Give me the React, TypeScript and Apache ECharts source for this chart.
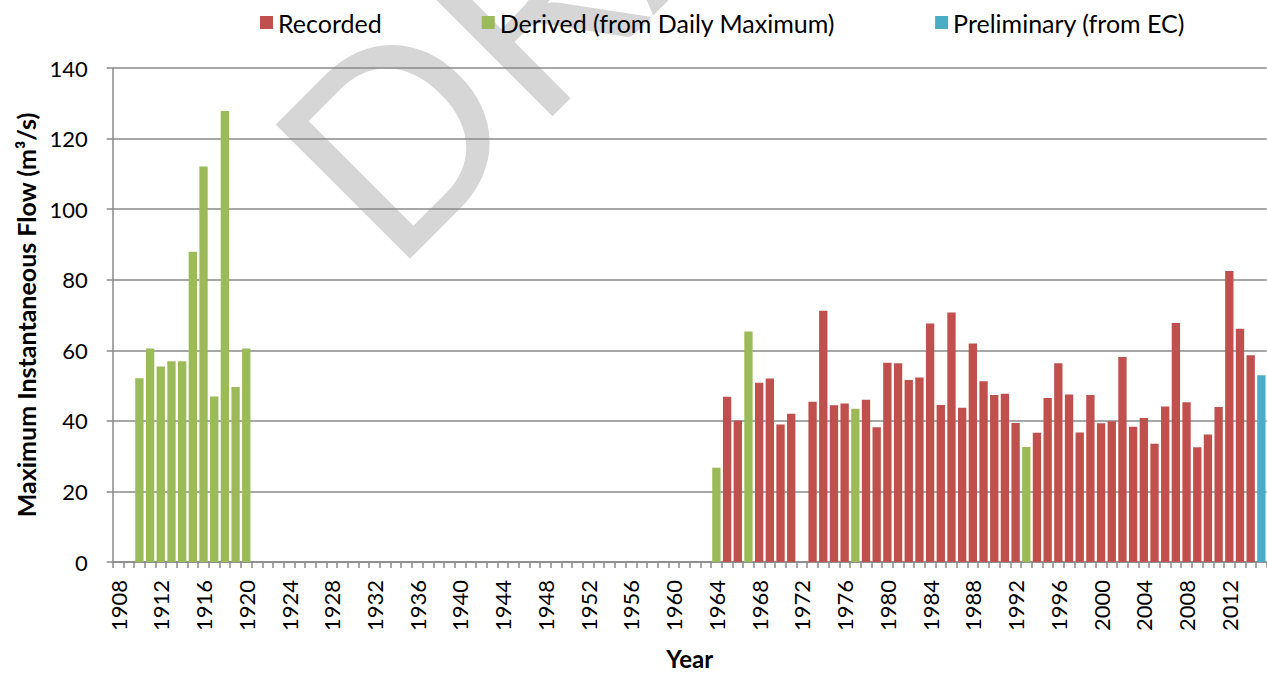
import React, { useEffect, useRef } from "react";
import * as echarts from "echarts";

const FIRST_YEAR = 1908;
const LAST_YEAR = 2015;
const years: string[] = [];
for (let y = FIRST_YEAR; y <= LAST_YEAR; y++) years.push(String(y));

const recorded: [number, number][] = [
  [1965, 46.8], [1966, 40.1], [1968, 50.8], [1969, 52.0], [1970, 39.0], [1971, 42.0],
  [1973, 45.4], [1974, 71.2], [1975, 44.4], [1976, 44.9], [1978, 46.0], [1979, 38.2],
  [1980, 56.5], [1981, 56.3], [1982, 51.6], [1983, 52.3], [1984, 67.6], [1985, 44.5],
  [1986, 70.7], [1987, 43.7], [1988, 61.9], [1989, 51.2], [1990, 47.3], [1991, 47.7],
  [1992, 39.4], [1994, 36.6], [1995, 46.5], [1996, 56.3], [1997, 47.5], [1998, 36.7],
  [1999, 47.3], [2000, 39.3], [2001, 39.9], [2002, 58.1], [2003, 38.3], [2004, 40.8],
  [2005, 33.5], [2006, 44.1], [2007, 67.7], [2008, 45.3], [2009, 32.5], [2010, 36.1],
  [2011, 43.9], [2012, 82.5], [2013, 66.1], [2014, 58.6],
];

const derived: [number, number][] = [
  [1910, 52.1], [1911, 60.5], [1912, 55.4], [1913, 56.9], [1914, 56.9], [1915, 87.9],
  [1916, 112.1], [1917, 46.9], [1918, 127.8], [1919, 49.6], [1920, 60.5],
  [1964, 26.7], [1967, 65.3], [1977, 43.4], [1993, 32.6],
];

const preliminary: [number, number][] = [[2015, 52.9]];

const yTicks = { min: 0, max: 140, interval: 20 };

function toSeriesData(pairs: [number, number][]) {
  const m = new Map<number, number>(pairs);
  return years.map((y) => (m.has(Number(y)) ? m.get(Number(y)) : null));
}

const FONT = "Lato, 'Open Sans', sans-serif";
const GRID_COLOR = "#8a8a8a";

export default function App() {
  const ref = useRef<HTMLDivElement>(null);
  useEffect(() => {
    document.body.style.margin = "0";
    const chart = echarts.init(ref.current!, undefined, { renderer: "svg" });
    const barCommon = {
      type: "bar" as const,
      barGap: "-100%",
      barCategoryGap: "22%",
    };
    chart.setOption({
      animation: false,
      backgroundColor: "#ffffff",
      textStyle: { fontFamily: FONT, color: "#000" },
      graphic: [
        {
          type: "text",
          x: 320,
          y: 203,
          rotation: Math.PI / 4,
          z: -100,
          silent: true,
          style: {
            text: "DRAFT",
            fontSize: 265,
            fontFamily: FONT,
            fill: "#d6d6d6",
            align: "left",
            verticalAlign: "middle",
          },
        },
      ],
      legend: {
        left: 255,
        top: 5,
        itemWidth: 13,
        itemHeight: 13,
        itemGap: 100,
        icon: "rect",
        textStyle: { fontSize: 25, fontFamily: FONT, color: "#000" },
        data: ["Recorded", "Derived (from Daily Maximum)", "Preliminary (from EC)"],
      },
      grid: { left: 112.7, right: 0.3, top: 68, bottom: 108.3, containLabel: false },
      xAxis: {
        type: "category",
        data: years,
        boundaryGap: true,
        name: "Year",
        nameLocation: "middle",
        nameGap: 84,
        nameTextStyle: { fontSize: 24, fontWeight: "bold", fontFamily: FONT, color: "#000" },
        axisLine: { show: true, lineStyle: { color: GRID_COLOR, width: 1.5 } },
        axisTick: { show: true, interval: 0, length: 6, alignWithLabel: false, lineStyle: { color: GRID_COLOR, width: 1.5 } },
        axisLabel: { interval: 3, rotate: 90, margin: 18, fontSize: 22, fontFamily: FONT, color: "#000" },
        splitLine: { show: false },
      },
      yAxis: {
        type: "value",
        min: yTicks.min,
        max: yTicks.max,
        interval: yTicks.interval,
        name: "Maximum Instantaneous Flow (m³/s)",
        nameLocation: "middle",
        nameGap: 74,
        nameRotate: 90,
        nameTextStyle: { fontSize: 25, fontWeight: "bold", fontFamily: FONT, color: "#000" },
        axisLine: { show: true, lineStyle: { color: GRID_COLOR, width: 1.5 } },
        axisTick: { show: true, inside: false, length: 6, lineStyle: { color: GRID_COLOR, width: 1.5 } },
        axisLabel: { margin: 25, fontSize: 22, fontFamily: FONT, color: "#000" },
        splitLine: { show: true, lineStyle: { color: GRID_COLOR, width: 1.5 } },
      },
      series: [
        { ...barCommon, name: "Recorded", data: toSeriesData(recorded), itemStyle: { color: "#C0504D" } },
        { ...barCommon, name: "Derived (from Daily Maximum)", data: toSeriesData(derived), itemStyle: { color: "#9BBB59" } },
        { ...barCommon, name: "Preliminary (from EC)", data: toSeriesData(preliminary), itemStyle: { color: "#4BACC6" } },
      ],
    });
    return () => chart.dispose();
  }, []);
  return <div ref={ref} style={{ width: 1267, height: 675 }} />;
}
